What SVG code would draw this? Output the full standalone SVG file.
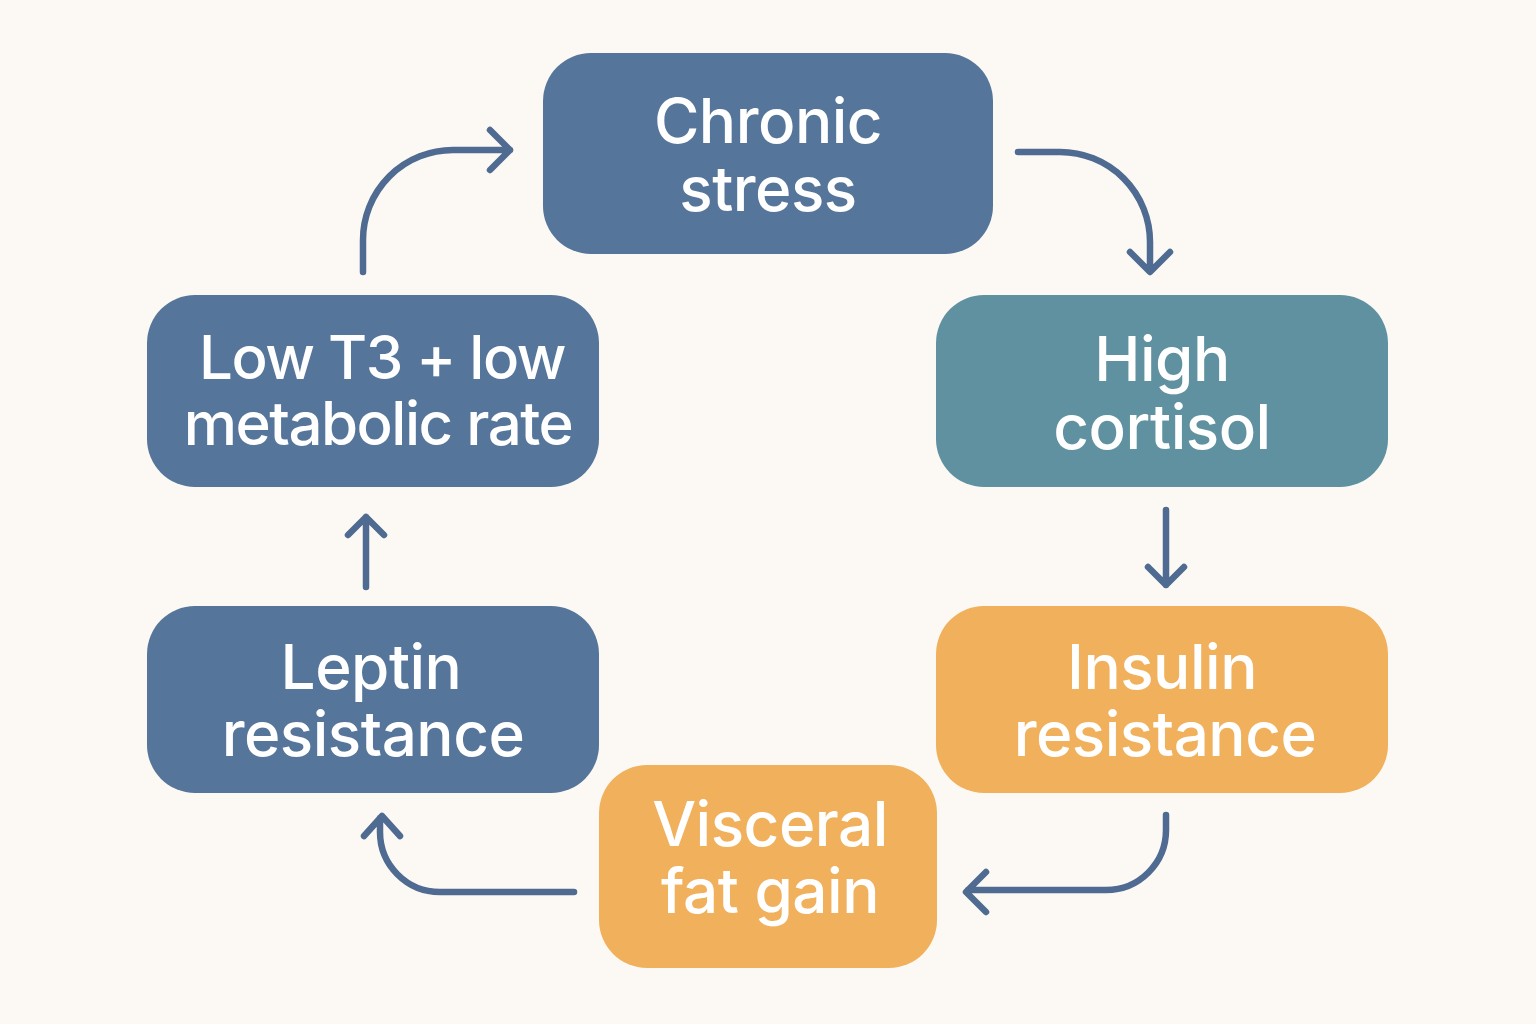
<svg xmlns="http://www.w3.org/2000/svg" width="1536" height="1024" viewBox="0 0 1536 1024">
<style>
.t{font-family:Inter,"Open Sans","Liberation Sans",sans-serif;font-size:62px;font-weight:500;fill:#fff;text-anchor:middle;letter-spacing:-0.5px}
.s{font-size:60px;letter-spacing:-1.5px}
.c{fill:none;stroke:#4f6b91;stroke-width:6.5;stroke-linecap:round;stroke-linejoin:round}
</style>
<rect width="1536" height="1024" fill="#fcf9f4"/>
<g id="chronic-stress"><rect x="543" y="53" width="450" height="201" rx="48" fill="#55759a"/><text class="t" x="768" y="143">Chronic</text><text class="t" x="768" y="211">stress</text></g>
<g id="high-cortisol"><rect x="936" y="295" width="452" height="192" rx="48" fill="#5f91a0"/><text class="t" x="1162" y="381">High</text><text class="t" x="1162" y="449">cortisol</text></g>
<g id="insulin-resistance"><rect x="936" y="606" width="452" height="187" rx="48" fill="#f0b05c"/><text class="t" x="1162" y="689">Insulin</text><text class="t" x="1165" y="756">resistance</text></g>
<g id="visceral-fat"><rect x="599" y="765" width="338" height="203" rx="48" fill="#f0b05c"/><text class="t" x="770" y="846">Visceral</text><text class="t" x="770" y="913">fat gain</text></g>
<g id="leptin-resistance"><rect x="147" y="606" width="452" height="187" rx="48" fill="#55759a"/><text class="t" x="371" y="689">Leptin</text><text class="t" x="373" y="756">resistance</text></g>
<g id="low-t3"><rect x="147" y="295" width="452" height="192" rx="48" fill="#55759a"/><text class="t s" x="382" y="379">Low T3 + low</text><text class="t s" x="378" y="445">metabolic rate</text></g>
<g id="connectors">
<path class="c" d="M363 272 V240 A90 90 0 0 1 453 150 H510 M490 130 L510 150 L490 170"/>
<path class="c" d="M1018 152 H1060 A90 90 0 0 1 1150 242 V270 M1130 252 L1150 272 L1170 252"/>
<path class="c" d="M1166 510 V585 M1148 567 L1166 585 L1184 567"/>
<path class="c" d="M1166 815 V830 A60 60 0 0 1 1106 890 H968 M986 872 L966 892 L986 912"/>
<path class="c" d="M574 892 H440 A60 60 0 0 1 380 832 V818 M364 836 L382 816 L400 836"/>
<path class="c" d="M366 587 V517 M348 535 L366 517 L384 535"/>
</g>
</svg>
